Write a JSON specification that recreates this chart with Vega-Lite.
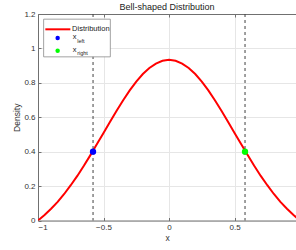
{
  "$schema": "https://vega.github.io/schema/vega-lite/v6.json",
  "autosize": "none",
  "width": 258,
  "height": 206.5,
  "padding": {"left": 38, "top": 14, "right": 0, "bottom": 29.5},
  "background": "white",
  "config": {
    "view": {"stroke": null},
    "font": "Liberation Sans",
    "axis": {"labelFont": "Liberation Sans", "titleFont": "Liberation Sans"}
  },
  "title": {"text": "Bell-shaped Distribution", "fontSize": 9, "fontWeight": "normal", "color": "#222222", "offset": -2, "anchor": "middle"},
  "datasets": {
    "curve": [
      {"x": -1.0, "y": 0.0}, {"x": -0.95, "y": 0.032}, {"x": -0.9, "y": 0.068}, {"x": -0.85, "y": 0.108},
      {"x": -0.8, "y": 0.154}, {"x": -0.75, "y": 0.205}, {"x": -0.7, "y": 0.259}, {"x": -0.65, "y": 0.318},
      {"x": -0.6, "y": 0.38}, {"x": -0.55, "y": 0.444}, {"x": -0.5, "y": 0.509}, {"x": -0.45, "y": 0.574},
      {"x": -0.4, "y": 0.638}, {"x": -0.35, "y": 0.699}, {"x": -0.3, "y": 0.756}, {"x": -0.25, "y": 0.807},
      {"x": -0.2, "y": 0.851}, {"x": -0.15, "y": 0.886}, {"x": -0.1, "y": 0.912}, {"x": -0.05, "y": 0.928},
      {"x": 0.0, "y": 0.934}, {"x": 0.05, "y": 0.928}, {"x": 0.1, "y": 0.912}, {"x": 0.15, "y": 0.886},
      {"x": 0.2, "y": 0.851}, {"x": 0.25, "y": 0.807}, {"x": 0.3, "y": 0.756}, {"x": 0.35, "y": 0.699},
      {"x": 0.4, "y": 0.638}, {"x": 0.45, "y": 0.574}, {"x": 0.5, "y": 0.509}, {"x": 0.55, "y": 0.444},
      {"x": 0.6, "y": 0.38}, {"x": 0.65, "y": 0.318}, {"x": 0.7, "y": 0.259}, {"x": 0.75, "y": 0.205},
      {"x": 0.8, "y": 0.154}, {"x": 0.85, "y": 0.108}, {"x": 0.9, "y": 0.068}, {"x": 0.95, "y": 0.032},
      {"x": 1.0, "y": 0.0}
    ],
    "points": [
      {"x": -0.58, "y": 0.4, "name": "x_left", "color": "#0000ff"},
      {"x": 0.58, "y": 0.4, "name": "x_right", "color": "#00ff00"}
    ],
    "legendbox": [{"x1": -0.957, "x2": -0.448, "y1": 0.951, "y2": 1.17}],
    "legendline": [{"x": -0.944, "y": 1.111}, {"x": -0.753, "y": 1.111}],
    "legenddots": [
      {"x": -0.85, "y": 1.06, "color": "#0000ff", "main": "x", "sub": "left"},
      {"x": -0.85, "y": 0.986, "color": "#00ff00", "main": "x", "sub": "right"}
    ],
    "legendtext": [{"x": -0.74, "y": 1.111, "label": "Distribution"}]
  },
  "resolve": {"axis": {"x": "independent", "y": "independent"}},
  "layer": [
    {
      "data": {"name": "curve"},
      "mark": {"type": "line", "color": "#ff0000", "strokeWidth": 2, "clip": true},
      "encoding": {
        "x": {"field": "x", "type": "quantitative",
          "scale": {"domain": [-1, 0.969], "nice": false, "zero": false},
          "axis": {"values": [-1, -0.5, 0, 0.5, 1], "format": "~g", "title": "x", "grid": true, "gridColor": "#e6e6e6",
            "domainColor": "#707070", "tickColor": "#707070", "tickSize": -3, "labelPadding": 6,
            "labelFontSize": 8, "labelColor": "#333333", "titleFontSize": 8.5, "titleFontWeight": "normal", "titleColor": "#333333", "titlePadding": 2}},
        "y": {"field": "y", "type": "quantitative",
          "scale": {"domain": [0, 1.2], "nice": false},
          "axis": {"values": [0, 0.2, 0.4, 0.6, 0.8, 1, 1.2], "format": "~g", "title": "Density", "grid": true, "gridColor": "#e6e6e6",
            "domainColor": "#707070", "tickColor": "#707070", "tickSize": -3, "labelPadding": 6,
            "labelFontSize": 8, "labelColor": "#333333", "titleFontSize": 8.5, "titleFontWeight": "normal", "titleColor": "#333333", "titlePadding": 2}}
      }
    },
    {
      "data": {"name": "points"},
      "mark": {"type": "rule", "strokeDash": [3, 3], "color": "#404040", "strokeWidth": 1},
      "encoding": {
        "x": {"field": "x", "type": "quantitative", "axis": {"orient": "top", "values": [-1, -0.5, 0, 0.5, 1], "labels": false, "title": null, "grid": false, "domainColor": "#707070", "tickColor": "#707070", "tickSize": -3}}
      }
    },
    {
      "data": {"name": "points"},
      "mark": {"type": "circle", "size": 40, "opacity": 1},
      "encoding": {
        "x": {"field": "x", "type": "quantitative", "axis": null},
        "y": {"field": "y", "type": "quantitative", "axis": null},
        "color": {"field": "color", "type": "nominal", "scale": null}
      }
    },
    {
      "data": {"name": "legendbox"},
      "mark": {"type": "rect", "fill": "white", "stroke": "#8a8a8a", "strokeWidth": 0.8},
      "encoding": {
        "x": {"field": "x1", "type": "quantitative", "axis": null},
        "x2": {"field": "x2"},
        "y": {"field": "y1", "type": "quantitative", "axis": null},
        "y2": {"field": "y2"}
      }
    },
    {
      "data": {"name": "legendline"},
      "mark": {"type": "line", "color": "#ff0000", "strokeWidth": 2},
      "encoding": {
        "x": {"field": "x", "type": "quantitative", "axis": null},
        "y": {"field": "y", "type": "quantitative", "axis": null}
      }
    },
    {
      "data": {"name": "legenddots"},
      "mark": {"type": "circle", "size": 20, "opacity": 1},
      "encoding": {
        "x": {"field": "x", "type": "quantitative", "axis": null},
        "y": {"field": "y", "type": "quantitative", "axis": null},
        "color": {"field": "color", "type": "nominal", "scale": null}
      }
    },
    {
      "data": {"name": "legendtext"},
      "mark": {"type": "text", "align": "left", "baseline": "middle", "fontSize": 7.5, "color": "#222222"},
      "encoding": {
        "x": {"field": "x", "type": "quantitative", "axis": null},
        "y": {"field": "y", "type": "quantitative", "axis": null},
        "text": {"field": "label"}
      }
    },
    {
      "data": {"name": "legenddots"},
      "mark": {"type": "text", "align": "left", "baseline": "middle", "fontSize": 7.5, "color": "#222222", "dx": 15, "dy": -1},
      "encoding": {
        "x": {"field": "x", "type": "quantitative", "axis": null},
        "y": {"field": "y", "type": "quantitative", "axis": null},
        "text": {"field": "main"}
      }
    },
    {
      "data": {"name": "legenddots"},
      "mark": {"type": "text", "align": "left", "baseline": "middle", "fontSize": 5.5, "color": "#222222", "dx": 19.5, "dy": 2.5},
      "encoding": {
        "x": {"field": "x", "type": "quantitative", "axis": null},
        "y": {"field": "y", "type": "quantitative", "axis": null},
        "text": {"field": "sub"}
      }
    }
  ]
}
